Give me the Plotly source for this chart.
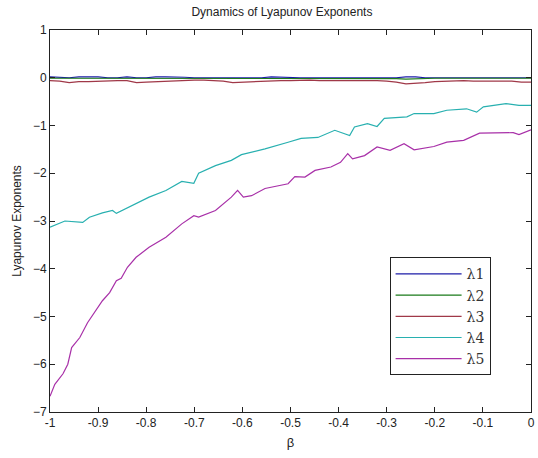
import numpy as np
import plotly.graph_objects as go

# beta grid for the three near-zero exponents
beta_s = np.round(np.linspace(-1.0, 0.0, 51), 3).tolist()

lam1 = [0.02, 0.01, 0.0, 0.02, 0.02, 0.02, 0.0, 0.0, 0.02, 0.0,
        0.0, 0.02, 0.02, 0.02, 0.01, 0.0, 0.0, 0.0, 0.01, 0.0,
        0.0, 0.01, 0.0, 0.02, 0.01, 0.0, 0.0, 0.0, 0.0, 0.0,
        0.0, 0.0, 0.0, 0.0, 0.0, 0.0, 0.0, 0.02, 0.02, 0.0,
        0.0, 0.0, 0.0, 0.0, 0.0, 0.01, 0.0, 0.0, 0.0, 0.0, 0.0]
lam2 = [-0.01, -0.01, -0.02, -0.01, -0.01, -0.01, -0.01, -0.02, -0.01, -0.01,
        -0.01, -0.01, -0.01, -0.01, -0.01, -0.01, -0.02, -0.01, -0.01, -0.02,
        -0.01, -0.01, -0.01, -0.01, -0.01, -0.01, -0.01, -0.01, -0.01, -0.01,
        -0.01, -0.01, -0.01, -0.01, -0.01, -0.01, -0.02, -0.03, -0.02, -0.01,
        -0.01, -0.01, -0.01, -0.01, -0.01, -0.01, -0.01, -0.01, -0.01, -0.01, -0.01]
lam3 = [-0.06, -0.07, -0.10, -0.08, -0.08, -0.07, -0.07, -0.06, -0.06, -0.10,
        -0.09, -0.08, -0.07, -0.06, -0.06, -0.05, -0.05, -0.06, -0.07, -0.10,
        -0.09, -0.08, -0.08, -0.07, -0.06, -0.06, -0.05, -0.05, -0.06, -0.06,
        -0.05, -0.05, -0.06, -0.06, -0.06, -0.07, -0.09, -0.13, -0.12, -0.10,
        -0.08, -0.07, -0.07, -0.06, -0.07, -0.07, -0.06, -0.06, -0.07, -0.09, -0.09]

# lambda 4
beta4 = [-1.0, -0.969, -0.932, -0.918, -0.891, -0.870, -0.862, -0.829, -0.794,
         -0.759, -0.726, -0.701, -0.691, -0.656, -0.623, -0.602, -0.553, -0.505,
         -0.478, -0.443, -0.408, -0.377, -0.367, -0.340, -0.320, -0.305, -0.258,
         -0.243, -0.202, -0.175, -0.134, -0.113, -0.099, -0.052, -0.025, 0.0]
lam4 = [-3.13, -3.00, -3.03, -2.92, -2.83, -2.78, -2.84, -2.68, -2.50,
        -2.36, -2.17, -2.21, -2.00, -1.84, -1.73, -1.61, -1.49, -1.35,
        -1.27, -1.25, -1.10, -1.21, -1.03, -0.96, -1.02, -0.85, -0.82,
        -0.75, -0.75, -0.68, -0.65, -0.72, -0.61, -0.54, -0.58, -0.58]

# lambda 5
beta5 = [-1.0, -0.990, -0.973, -0.963, -0.955, -0.938, -0.922, -0.903, -0.891,
         -0.876, -0.862, -0.852, -0.839, -0.821, -0.794, -0.759, -0.726, -0.701,
         -0.691, -0.656, -0.623, -0.610, -0.598, -0.581, -0.553, -0.505, -0.491,
         -0.470, -0.449, -0.416, -0.396, -0.381, -0.371, -0.346, -0.320, -0.293,
         -0.264, -0.243, -0.202, -0.175, -0.140, -0.107, -0.066, -0.037, -0.025, 0.0]
lam5 = [-6.67, -6.42, -6.20, -6.00, -5.65, -5.44, -5.13, -4.85, -4.67,
        -4.50, -4.25, -4.20, -3.97, -3.76, -3.55, -3.34, -3.06, -2.89,
        -2.92, -2.78, -2.50, -2.36, -2.50, -2.47, -2.32, -2.22, -2.07,
        -2.08, -1.94, -1.87, -1.77, -1.59, -1.70, -1.63, -1.45, -1.52,
        -1.38, -1.51, -1.44, -1.35, -1.31, -1.16, -1.16, -1.15, -1.19, -1.09]

x_ticks = [-1, -0.9, -0.8, -0.7, -0.6, -0.5, -0.4, -0.3, -0.2, -0.1, 0]
x_labels = ["-1", "-0.9", "-0.8", "-0.7", "-0.6", "-0.5", "-0.4", "-0.3", "-0.2", "-0.1", "0"]
y_ticks = [-7, -6, -5, -4, -3, -2, -1, 0, 1]

names = ["λ1", "λ2", "λ3", "λ4", "λ5"]
colors = ["#1c1ca8", "#1a7a1a", "#a03848", "#28b0b0", "#a830a8"]
xs = [beta_s, beta_s, beta_s, beta4, beta5]
ys = [lam1, lam2, lam3, lam4, lam5]

fig = go.Figure()
for n, c, x, y in zip(names, colors, xs, ys):
    fig.add_trace(go.Scatter(x=x, y=y, mode="lines", name=n,
                             line=dict(color=c, width=1.2)))

font_fam = "Liberation Sans, Arial, sans-serif"
axis_common = dict(showline=True, linecolor="#222", linewidth=1, mirror="ticks",
                   ticks="inside", ticklen=5, tickcolor="#222", showgrid=False,
                   zeroline=False, ticklabeloverflow="allow",
                   tickfont=dict(size=12, color="#222", family=font_fam))

fig.update_layout(
    width=538, height=458,
    margin=dict(l=50, r=3, t=30, b=46),
    paper_bgcolor="white", plot_bgcolor="white",
    title=dict(text="Dynamics of Lyapunov Exponents", x=0.524, xanchor="center",
               y=0.975, yanchor="middle",
               font=dict(size=12, color="#222", family=font_fam)),
    xaxis=dict(range=[-1, 0], tickvals=x_ticks, ticktext=x_labels,
               title=dict(text="β", font=dict(size=13, color="#222", family=font_fam), standoff=8),
               **axis_common),
    yaxis=dict(range=[-7, 1], tickvals=y_ticks,
               title=dict(text="Lyapunov Exponents", font=dict(size=12, color="#222", family=font_fam),
                          standoff=8),
               **axis_common),
    legend=dict(x=0.706, y=0.405, xanchor="left", yanchor="top",
                bordercolor="#222", borderwidth=1, bgcolor="white",
                itemwidth=66, tracegroupgap=0,
                font=dict(size=14, color="#333", family="DejaVu Serif, serif")),
    showlegend=True,
)

fig.write_html("out.html")
